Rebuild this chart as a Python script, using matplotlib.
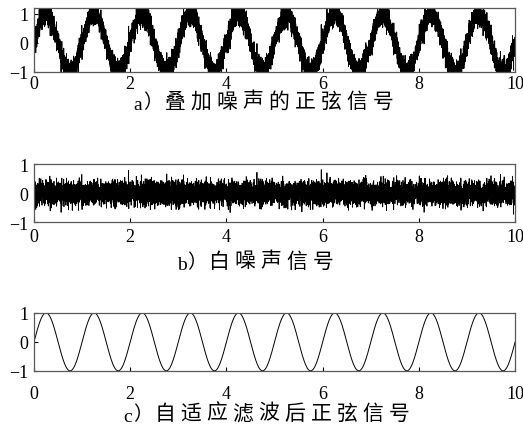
import numpy as np
import matplotlib.pyplot as plt

plt.rcParams['font.family'] = ['Liberation Serif', 'Noto Sans CJK SC']

# signal parameters
t_start, t_end, n_samples = 0, 10, 10000
sine_freq = 1.0      # 10 periods over 0..10
sine_amp = 1.0
noise_std = 0.2

x_ticks = [0, 2, 4, 6, 8, 10]
y_ticks = [-1, 0, 1]
cap_letters = ['a', 'b', 'c']
cap_texts = ['叠加噪声的正弦信号', '白噪声信号', '自适应滤波后正弦信号']

t = np.linspace(t_start, t_end, n_samples)
clean = sine_amp * np.sin(2 * np.pi * sine_freq * t)
rng = np.random.default_rng(3)
noise = rng.normal(0, noise_std, n_samples)
noisy = clean + noise

W, H = 523, 439
fig = plt.figure(figsize=(W / 100, H / 100), dpi=100)
boxes = [[0.065, 0.834, 0.920, 0.146],
         [0.065, 0.492, 0.920, 0.132],
         [0.065, 0.153, 0.920, 0.132]]
series = [noisy, noise, clean]
ylims = [(-1, 1.2), (-1, 1), (-1, 1)]
widths = [0.7, 0.6, 0.7]
pads = [2, 4, 10]
cap_y = [103, 263, 415]
cap_x = [138, 182, 128]   # centre of the latin letter, px

for i, (box, y, yl, pad) in enumerate(zip(boxes, series, ylims, pads)):
    ax = fig.add_axes(box)
    ax.plot(t, y, color='black', lw=widths[i])
    ax.set_xlim(0, 10)
    ax.set_ylim(*yl)
    ax.set_xticks(x_ticks)
    ax.set_yticks(y_ticks)
    ax.set_yticklabels(['\u22121', '0', '1'])
    ax.tick_params(direction='in', length=3, labelsize=13, pad=pad)
    ax.tick_params(axis='y', pad=4)
    for s in ax.spines.values():
        s.set_color('0.35')
        s.set_linewidth(0.9)

    # caption, drawn glyph by glyph to get the wide letter spacing
    x0, y0 = cap_x[i], cap_y[i]
    fig.text(x0 / W, 1 - (y0 + 3) / H, cap_letters[i], ha='center', va='center', fontsize=14)
    fig.text((x0 + 15) / W, 1 - y0 / H, '）', ha='center', va='center', fontsize=14)
    for k, ch in enumerate(cap_texts[i]):
        fig.text((x0 + 37 + 26 * k) / W, 1 - y0 / H, ch, ha='center', va='center', fontsize=15)

fig.savefig('out.png', dpi=100)
